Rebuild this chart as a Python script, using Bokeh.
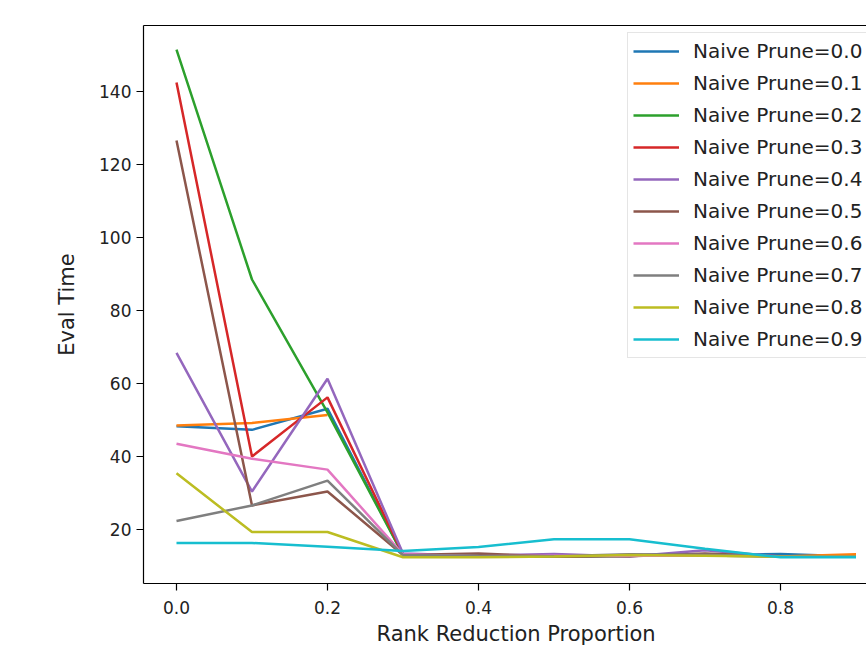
import numpy as np
from bokeh.plotting import figure
from bokeh.models import Range1d, LinearAxis, FixedTicker, Legend, LegendItem, PrintfTickFormatter, Title
from bokeh.embed import file_html
from bokeh.resources import INLINE

nan = float("nan")

rank_reduction = [0.0, 0.1, 0.2, 0.3, 0.4, 0.5, 0.6, 0.7, 0.8, 0.9]
series_labels = ["Naive Prune=0.0", "Naive Prune=0.1", "Naive Prune=0.2", "Naive Prune=0.3",
                 "Naive Prune=0.4", "Naive Prune=0.5", "Naive Prune=0.6", "Naive Prune=0.7",
                 "Naive Prune=0.8", "Naive Prune=0.9"]

prune_00 = [48.3, 47.3, 53.1, 13.0, 12.8, 12.6, 12.8, 12.9, 13.3, 12.6]
prune_01 = [48.5, 49.2, 51.4, nan, 12.6, 12.7, 13.0, 13.1, 12.6, 13.2]
prune_02 = [151.5, 88.5, 52.1, 13.0, 12.6, 12.6, 12.8, 12.9, 12.6, 12.6]
prune_03 = [142.5, 40.0, 56.2, 13.2, 12.8, 12.7, 12.9, 13.0, 12.7, 12.7]
prune_04 = [68.4, 30.4, 61.3, 13.4, 12.8, 13.3, 12.6, 14.3, 12.6, 12.6]
prune_05 = [126.6, 26.6, 30.4, 13.0, 13.4, 12.6, 12.7, 13.4, 12.6, 12.7]
prune_06 = [43.5, 39.4, 36.4, 13.2, 12.7, 12.8, 12.8, 12.9, 12.6, 12.6]
prune_07 = [22.3, 26.6, 33.4, 13.0, 12.8, 12.7, 13.2, 13.1, 12.6, 12.6]
prune_08 = [35.4, 19.3, 19.3, 12.4, 12.4, 12.6, 13.0, 12.8, 12.5, 12.5]
prune_09 = [16.3, 16.3, 15.3, 14.1, 15.2, 17.3, 17.3, 14.7, 12.4, 12.4]

all_series = [prune_00, prune_01, prune_02, prune_03, prune_04,
              prune_05, prune_06, prune_07, prune_08, prune_09]

colors = ["#1f77b4", "#ff7f0e", "#2ca02c", "#d62728", "#9467bd",
          "#8c564b", "#e377c2", "#7f7f7f", "#bcbd22", "#17becf"]

y_ticks = [20, 40, 60, 80, 100, 120, 140]
x_ticks = [0.0, 0.2, 0.4, 0.6, 0.8]

x_label = "Rank Reduction Proportion"
y_label = "Eval Time"

FONT = "DejaVu Sans"

p = figure(width=866, height=653, output_backend="svg", toolbar_location=None,
           x_range=Range1d(-0.0437, 0.9139), y_range=Range1d(5.2, 158.1),
           min_border_left=143, min_border_right=0, min_border_top=25, min_border_bottom=70)
p.background_fill_color = "white"
p.border_fill_color = "white"
p.outline_line_color = None
p.xgrid.visible = False
p.ygrid.visible = False

items = []
for lab, vals, col in zip(series_labels, all_series, colors):
    r = p.line(np.array(rank_reduction), np.array(vals, dtype=float), line_color=col, line_width=2.5)
    items.append(LegendItem(label=lab, renderers=[r]))

for ax in (p.xaxis[0], p.yaxis[0]):
    ax.axis_line_color = "black"
    ax.axis_line_width = 1.2
    ax.major_tick_line_color = "black"
    ax.major_tick_line_width = 1.2
    ax.major_tick_out = 7
    ax.major_tick_in = 0
    ax.minor_tick_line_color = None
    ax.major_label_text_font = FONT
    ax.major_label_text_font_size = "17px"
    ax.major_label_text_color = "#222222"
    ax.axis_label_text_font = FONT
    ax.axis_label_text_font_size = "21px"
    ax.axis_label_text_font_style = "normal"
    ax.axis_label_text_color = "#222222"

p.xaxis[0].ticker = FixedTicker(ticks=x_ticks)
p.xaxis[0].formatter = PrintfTickFormatter(format="%.1f")
p.yaxis[0].ticker = FixedTicker(ticks=y_ticks)
p.yaxis[0].axis_label = y_label
p.xaxis[0].major_label_standoff = 10
p.yaxis[0].major_label_standoff = 5
p.yaxis[0].axis_label_standoff = 17

# x-axis title, shifted so it is centred on the full (uncropped) axes span as in the reference
xt = Title(text=x_label, align="left", offset=233, standoff=7,
           text_font=FONT, text_font_size="21px", text_font_style="normal", text_color="#222222")
p.add_layout(xt, "below")

top_axis = LinearAxis(ticker=FixedTicker(ticks=[]), axis_line_color="black", axis_line_width=1.2,
                      major_label_text_font_size="0px", major_tick_line_color=None,
                      minor_tick_line_color=None)
p.add_layout(top_axis, "above")

legend = Legend(items=items, location=(484, 225))
legend.label_text_font = FONT
legend.label_text_font_size = "20px"
legend.label_text_color = "#222222"
legend.glyph_width = 46
legend.glyph_height = 26
legend.label_height = 26
legend.label_standoff = 14
legend.spacing = 6
legend.padding = 5
legend.margin = 0
legend.border_line_color = "#cccccc"
legend.border_line_width = 1
legend.background_fill_color = "white"
legend.background_fill_alpha = 0.8
p.add_layout(legend, "center")

open("out.html", "w").write(file_html(p, INLINE))
